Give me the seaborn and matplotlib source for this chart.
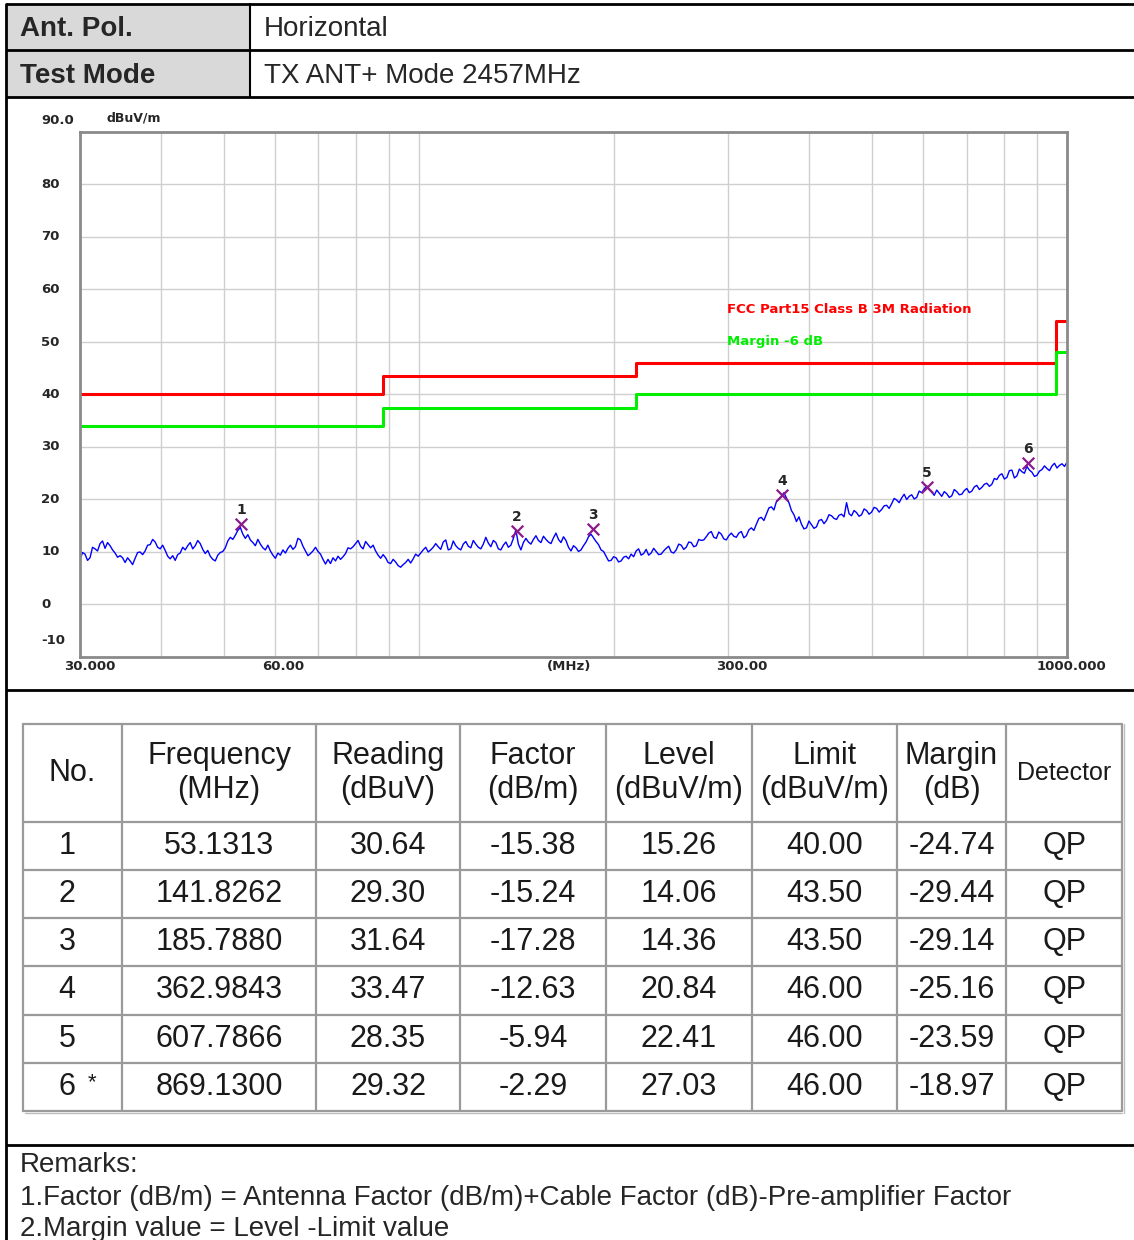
import numpy as np
import pandas as pd
import matplotlib
matplotlib.use("Agg")
import matplotlib.pyplot as plt
import seaborn as sns

# ---- header block ----
header_labels = ["Ant. Pol.", "Test Mode"]
header_values = ["Horizontal", "TX ANT+ Mode 2457MHz"]

# ---- scan trace, dBuV/m (sweep 30 MHz .. 1000 MHz, log spaced) ----
trace_dbuv = [
    8.5, 9.9, 9.6, 8.4, 8.9, 10.9, 10.6, 10.2, 11.6, 12.1, 10.7, 11.8, 11.2, 10.4, 9.8, 9.0, 9.3, 8.9, 8.0, 8.9,
    8.3, 7.6, 8.8, 9.9, 10.0, 9.5, 10.2, 11.3, 11.4, 12.4, 11.9, 10.9, 10.6, 11.3, 10.3, 9.2, 8.7, 9.3, 8.4, 9.5,
    9.8, 10.9, 10.4, 11.2, 11.8, 10.6, 11.2, 12.2, 11.6, 10.5, 9.7, 10.3, 9.2, 8.6, 8.3, 9.4, 9.9, 10.1, 10.8, 12.1,
    12.8, 12.4, 13.2, 14.1, 14.7, 13.4, 12.6, 13.3, 12.3, 11.8, 11.2, 12.4, 11.5, 10.8, 10.4, 11.3, 10.2, 9.4, 8.8, 9.8,
    9.4, 10.4, 9.8, 10.7, 11.3, 10.5, 11.0, 12.6, 12.3, 11.1, 10.2, 9.3, 9.7, 10.2, 10.9, 10.1, 9.6, 8.6, 7.7, 8.6,
    7.8, 8.9, 8.3, 9.2, 8.6, 9.1, 9.7, 10.8, 10.6, 11.0, 11.6, 12.2, 11.1, 10.6, 12.0, 11.4, 10.8, 11.3, 10.2, 9.4,
    8.8, 9.5, 8.9, 8.0, 7.8, 8.6, 8.1, 7.4, 7.1, 7.6, 8.0, 8.6, 7.9, 8.7, 9.6, 9.2, 9.8, 10.4, 10.9, 10.0,
    10.4, 10.9, 11.6, 11.0, 10.5, 11.9, 12.3, 10.4, 10.6, 12.1, 11.2, 10.7, 10.4, 11.5, 12.0, 11.1, 10.8, 12.2, 11.5, 10.9,
    10.6, 11.5, 12.8, 11.7, 11.0, 12.2, 11.8, 10.6, 10.4, 11.3, 11.9, 10.9, 11.3, 12.6, 14.2, 11.5, 10.4, 11.8, 12.6, 11.9,
    11.5, 12.4, 13.1, 12.2, 11.8, 13.0, 12.4, 11.9, 11.6, 12.7, 13.6, 12.4, 11.8, 12.9, 12.2, 10.9, 10.2, 11.2, 10.8, 10.1,
    10.4, 11.2, 11.9, 12.9, 13.4, 12.7, 12.0, 11.4, 10.4, 10.1, 9.2, 8.3, 8.4, 9.1, 8.9, 8.1, 8.3, 9.0, 9.2, 8.7,
    9.6, 9.1, 10.2, 10.6, 9.4, 9.7, 10.5, 9.4, 9.8, 10.7, 10.1, 9.5, 9.6, 10.2, 10.7, 11.1, 10.0, 9.8, 10.4, 11.5,
    11.3, 10.5, 10.9, 11.9, 11.8, 11.0, 11.2, 12.4, 12.2, 12.3, 12.9, 13.6, 13.9, 12.8, 12.6, 13.8, 13.4, 12.5, 12.3, 13.1,
    13.6, 13.0, 12.8, 13.6, 13.9, 12.7, 13.1, 14.2, 14.6, 14.1, 15.3, 16.4, 16.6, 16.0, 17.2, 18.4, 18.6, 18.0, 19.6, 20.1,
    20.6, 21.3, 20.3, 19.4, 17.9, 17.1, 15.8, 16.7, 15.3, 14.4, 14.6, 15.9, 15.2, 14.5, 14.8, 16.0, 16.2, 15.4, 16.0, 17.1,
    16.9, 16.4, 16.2, 17.0, 17.2, 16.7, 19.4, 17.3, 16.9, 17.9, 17.5, 16.8, 17.1, 18.2, 17.9, 17.2, 17.6, 18.5, 18.3, 17.6,
    18.1, 18.8, 18.9, 18.3, 19.2, 20.2, 19.9, 19.4, 20.3, 21.0, 20.0, 20.6, 20.9, 20.1, 20.4, 21.6, 21.3, 22.0, 22.6, 21.9,
    21.4, 20.8, 21.8, 21.2, 20.6, 21.5, 21.1, 20.4, 20.7, 21.9, 21.5, 20.9, 21.0, 21.7, 22.1, 21.3, 21.6, 22.4, 22.7, 21.9,
    22.3, 22.9, 23.1, 22.5, 22.9, 24.0, 23.8, 24.6, 24.9, 23.9, 24.2, 25.5, 25.6, 24.1, 24.5, 25.8, 25.3, 25.0, 26.3, 25.6,
    25.2, 24.4, 24.6, 25.4, 25.7, 26.4, 25.9, 25.5, 26.4, 26.9, 26.0, 26.5, 26.8, 26.3, 27.1,
]

# ---- limit lines ----
limit_mhz = [30, 88, 216, 960, 1000]
limit_dbuv = [40.0, 43.5, 46.0, 54.0, 54.0]
margin_dbuv = [34.0, 37.5, 40.0, 48.0, 48.0]
limit_name = "FCC Part15 Class B 3M Radiation"
margin_name = "Margin -6 dB"

# ---- peak list ----
peak_no = ["1", "2", "3", "4", "5", "6"]
peak_freq = [53.1313, 141.8262, 185.7880, 362.9843, 607.7866, 869.1300]
peak_reading = [30.64, 29.30, 31.64, 33.47, 28.35, 29.32]
peak_factor = [-15.38, -15.24, -17.28, -12.63, -5.94, -2.29]
peak_level = [15.26, 14.06, 14.36, 20.84, 22.41, 27.03]
peak_limit = [40.00, 43.50, 43.50, 46.00, 46.00, 46.00]
peak_margin = [-24.74, -29.44, -29.14, -25.16, -23.59, -18.97]
peak_detector = ["QP", "QP", "QP", "QP", "QP", "QP"]
worst_peak = "6"

table_head = ["No.", "Frequency\n(MHz)", "Reading\n(dBuV)", "Factor\n(dB/m)",
              "Level\n(dBuV/m)", "Limit\n(dBuV/m)", "Margin\n(dB)", "Detector"]

remarks = ["Remarks:",
           "1.Factor (dB/m) = Antenna Factor (dB/m)+Cable Factor (dB)-Pre-amplifier Factor",
           "2.Margin value = Level -Limit value"]

y_ticks = [0, 10, 20, 30, 40, 50, 60, 70, 80]
x_grid = [40, 50, 60, 70, 80, 90, 100, 200, 300, 400, 500, 600, 700, 800, 900]
x_labels = [(30, "30.000"), (60, "60.00"), (300, "300.00"), (1000, "1000.000")]

trace = pd.DataFrame({"freq": np.geomspace(30, 1000, len(trace_dbuv)),
                      "level": trace_dbuv})
limits = pd.DataFrame({"freq": limit_mhz, "limit": limit_dbuv, "margin": margin_dbuv})
peaks = pd.DataFrame({"freq": peak_freq, "level": peak_level, "no": peak_no})

sns.set_style("white")
plt.rcParams["font.family"] = ["Liberation Sans", "DejaVu Sans"]

W, H = 1134, 1240
fig = plt.figure(figsize=(W / 100, H / 100), dpi=100)

# ---- page frame (pixel coords) ----
frame = fig.add_axes([0, 0, 1, 1], zorder=0)
frame.set_xlim(0, W)
frame.set_ylim(H, 0)
frame.axis("off")
frame.add_patch(plt.Rectangle((6, 4), 244, 93, color="#d9d9d9", lw=0))
for yy in [4, 50, 97, 690, 1145]:
    frame.plot([6, W], [yy, yy], color="black", lw=2, solid_capstyle="butt")
frame.plot([6, 6], [4, H], color="black", lw=2)
frame.plot([250, 250], [4, 97], color="black", lw=1.5)
for yy, lab, val in zip([29, 76], header_labels, header_values):
    frame.text(20, yy, lab, fontsize=20, fontweight="bold", va="center", ha="left")
    frame.text(264, yy, val, fontsize=20, va="center", ha="left")

# ---- peak table ----
col_x = [23, 122, 316, 460, 606, 752, 897, 1006, 1122]
row_y = [724, 822, 870, 918, 966, 1015, 1063, 1111]
for xx in col_x:
    frame.plot([xx, xx], [row_y[0], row_y[-1]], color="#9a9a9a", lw=1.6)
for yy in row_y:
    frame.plot([col_x[0], col_x[-1]], [yy, yy], color="#9a9a9a", lw=1.6)
frame.plot([col_x[0] + 2, col_x[-1]], [row_y[-1] + 2, row_y[-1] + 2], color="#bdbdbd", lw=1)
frame.plot([col_x[-1] + 2, col_x[-1] + 2], [row_y[0], row_y[-1] + 2], color="#bdbdbd", lw=1)

centers = [(a + b) / 2 for a, b in zip(col_x[:-1], col_x[1:])]
head_y = (row_y[0] + row_y[1]) / 2
for cx, txt in zip(centers, table_head):
    fs = 18 if txt == "Detector" else 22
    frame.text(cx, head_y, txt, fontsize=fs, ha="center", va="center",
               linespacing=1.15, color="#1a1a1a")

rows = list(zip(peak_no, peak_freq, peak_reading, peak_factor, peak_level,
                peak_limit, peak_margin, peak_detector))
for i, r in enumerate(rows):
    cy = (row_y[i + 1] + row_y[i + 2]) / 2
    cells = [r[0], f"{r[1]:.4f}", f"{r[2]:.2f}", f"{r[3]:.2f}", f"{r[4]:.2f}",
             f"{r[5]:.2f}", f"{r[6]:.2f}", r[7]]
    for j, (cx, txt) in enumerate(zip(centers, cells)):
        if j == 0:
            frame.text(67, cy, txt, fontsize=22, ha="center", va="center", color="#1a1a1a")
            if txt == worst_peak:
                frame.text(92, cy - 4, "*", fontsize=16, ha="center", va="center", color="#1a1a1a")
        else:
            frame.text(cx, cy, txt, fontsize=22, ha="center", va="center", color="#1a1a1a")

for yy, txt in zip([1165, 1198, 1229], remarks):
    frame.text(20, yy, txt, fontsize=20, ha="left", va="center")

# ---- spectrum chart ----
ax = fig.add_axes([80 / W, 1 - 657 / H, 987 / W, 525 / H], zorder=2)
ax.set_xscale("log")
ax.set_xlim(30, 1000)
ax.set_ylim(-10, 90)

sns.lineplot(data=limits, x="freq", y="limit", color="#ff0000", lw=2.2,
             drawstyle="steps-post", ax=ax, sort=False)
sns.lineplot(data=limits, x="freq", y="margin", color="#00ee00", lw=2.2,
             drawstyle="steps-post", ax=ax, sort=False)
sns.lineplot(data=trace, x="freq", y="level", color="#0000ff", lw=1.0, ax=ax, sort=False)
sns.scatterplot(data=peaks, x="freq", y="level", marker="x", color="#8b1a8b",
                s=70, linewidth=1.6, ax=ax, zorder=5)

chart_font = dict(family="DejaVu Sans", fontweight="bold")
for _, p in peaks.iterrows():
    ax.annotate(p["no"], (p["freq"], p["level"]), xytext=(0, 10),
                textcoords="offset points", ha="center", va="center",
                fontsize=10, **chart_font)

ax.xaxis.set_major_locator(matplotlib.ticker.FixedLocator(x_grid))
ax.xaxis.set_minor_locator(matplotlib.ticker.NullLocator())
ax.set_yticks(y_ticks)
ax.tick_params(length=0, labelleft=False, labelbottom=False)
ax.grid(True, color="#cfcfcf", lw=1)
for s in ax.spines.values():
    s.set_color("#8a8a8a")
    s.set_linewidth(2)
ax.set_xlabel("")
ax.set_ylabel("")

tf = ("axes fraction", "data")
for v in y_ticks:
    ax.annotate(str(v), (0, v), xycoords=tf, xytext=(-28, 0), textcoords="offset points",
                ha="left", va="center", fontsize=9.5, **chart_font)
ax.annotate("90.0", (0, 90), xycoords=tf, xytext=(-28, 8), textcoords="offset points",
            ha="left", va="center", fontsize=9.5, **chart_font)
ax.annotate("-10", (0, -10), xycoords=tf, xytext=(-28, 12), textcoords="offset points",
            ha="left", va="center", fontsize=9.5, **chart_font)
ax.annotate("dBuV/m", (0, 90), xycoords=tf, xytext=(19, 10), textcoords="offset points",
            ha="left", va="center", fontsize=9, **chart_font)

tx = ("data", "axes fraction")
offs = {30: 7, 60: 6, 300: 10, 1000: 3}
for f, lab in x_labels:
    ax.annotate(lab, (f, 0), xycoords=tx, xytext=(offs[f], -7), textcoords="offset points",
                ha="center", va="center", fontsize=9.5, **chart_font)
ax.annotate("(MHz)", (0.495, 0), xycoords="axes fraction", xytext=(0, -7),
            textcoords="offset points", ha="center", va="center", fontsize=9.5, **chart_font)

blend = matplotlib.transforms.blended_transform_factory(ax.transAxes, ax.transData)
ax.text(0.6555, 56.2, limit_name, transform=blend,
        color="#ff0000", fontsize=9.5, ha="left", va="center", **chart_font)
ax.text(0.6555, 50.1, margin_name, transform=blend,
        color="#00ee00", fontsize=9.5, ha="left", va="center", **chart_font)

fig.savefig("out.png", dpi=100)
